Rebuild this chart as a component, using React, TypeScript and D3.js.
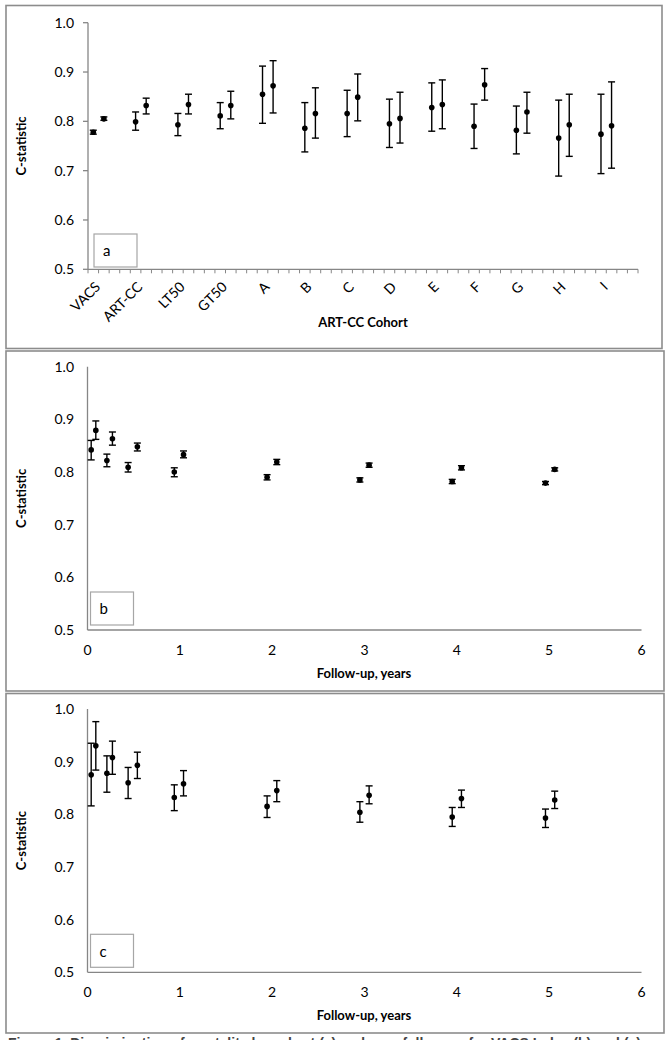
import React from "react";
import * as d3 from "d3";

// ---------- Panel a data ----------
const cohorts = ["VACS", "ART-CC", "LT50", "GT50", "A", "B", "C", "D", "E", "F", "G", "H", "I"];
const aSeries1 = [0.778, 0.799, 0.793, 0.811, 0.855, 0.786, 0.816, 0.795, 0.828, 0.790, 0.782, 0.766, 0.774];
const aSeries1Lo = [0.774, 0.782, 0.771, 0.785, 0.796, 0.738, 0.769, 0.747, 0.780, 0.745, 0.734, 0.689, 0.694];
const aSeries1Hi = [0.782, 0.819, 0.816, 0.838, 0.912, 0.838, 0.863, 0.845, 0.878, 0.835, 0.831, 0.843, 0.855];
const aSeries2 = [0.805, 0.832, 0.834, 0.832, 0.872, 0.816, 0.849, 0.806, 0.834, 0.874, 0.819, 0.793, 0.791];
const aSeries2Lo = [0.802, 0.815, 0.815, 0.805, 0.817, 0.766, 0.801, 0.756, 0.785, 0.843, 0.776, 0.729, 0.705];
const aSeries2Hi = [0.809, 0.847, 0.855, 0.861, 0.923, 0.868, 0.896, 0.859, 0.884, 0.907, 0.859, 0.855, 0.880];

// ---------- Panel b data ----------
const bYears = [0.04, 0.09, 0.21, 0.27, 0.44, 0.54, 0.94, 1.04, 1.945, 2.05, 2.95, 3.05, 3.95, 4.05, 4.96, 5.06];
const bValues = [0.842, 0.879, 0.822, 0.863, 0.809, 0.848, 0.800, 0.833, 0.790, 0.819, 0.785, 0.813, 0.782, 0.808, 0.779, 0.805];
const bLo = [0.823, 0.862, 0.810, 0.851, 0.800, 0.840, 0.791, 0.827, 0.785, 0.814, 0.781, 0.809, 0.778, 0.804, 0.776, 0.802];
const bHi = [0.860, 0.897, 0.834, 0.876, 0.818, 0.855, 0.808, 0.840, 0.795, 0.824, 0.789, 0.817, 0.786, 0.812, 0.782, 0.808];

// ---------- Panel c data ----------
const cYears = [0.04, 0.09, 0.21, 0.27, 0.44, 0.54, 0.94, 1.04, 1.945, 2.05, 2.95, 3.05, 3.95, 4.05, 4.96, 5.06];
const cValues = [0.875, 0.930, 0.878, 0.908, 0.860, 0.893, 0.832, 0.858, 0.815, 0.845, 0.804, 0.836, 0.795, 0.830, 0.793, 0.827];
const cLo = [0.816, 0.884, 0.842, 0.876, 0.830, 0.868, 0.807, 0.835, 0.794, 0.824, 0.785, 0.820, 0.777, 0.813, 0.775, 0.811];
const cHi = [0.935, 0.976, 0.911, 0.939, 0.889, 0.918, 0.856, 0.883, 0.835, 0.864, 0.824, 0.854, 0.813, 0.846, 0.810, 0.844];

const yTicks = [1.0, 0.9, 0.8, 0.7, 0.6, 0.5];
const xYearTicks = [0, 1, 2, 3, 4, 5, 6];

const FONT = "Lato, 'Open Sans', sans-serif";
const AXIS = "#868686";
const BORDER = "#8c8c8c";

function ErrPoint({ x, y, lo, hi }: { x: number; y: number; lo: number; hi: number }) {
  const cap = 3.5;
  return (
    <g>
      <line x1={x} x2={x} y1={hi} y2={lo} stroke="#000" strokeWidth={1.4} />
      <line x1={x - cap} x2={x + cap} y1={hi} y2={hi} stroke="#000" strokeWidth={1.4} />
      <line x1={x - cap} x2={x + cap} y1={lo} y2={lo} stroke="#000" strokeWidth={1.4} />
      <circle cx={x} cy={y} r={2.8} fill="#000" />
    </g>
  );
}

function YAxis({ y, x0, ticks }: { y: d3.ScaleLinear<number, number>; x0: number; ticks: boolean }) {
  return (
    <g>
      <line x1={x0} x2={x0} y1={y(1.0)} y2={y(0.5)} stroke={AXIS} strokeWidth={1.3} />
      {yTicks.map((t) => (
        <g key={t}>
          {ticks && <line x1={x0 - 5} x2={x0} y1={y(t)} y2={y(t)} stroke={AXIS} strokeWidth={1.3} />}
          <text x={74} y={y(t)} dy="0.36em" textAnchor="end" fontSize={14} fontFamily={FONT} fill="#000">
            {t.toFixed(1)}
          </text>
        </g>
      ))}
    </g>
  );
}

function LabelBox({ x, y, label }: { x: number; y: number; label: string }) {
  return (
    <g>
      <rect x={x} y={y} width={43} height={33} fill="#fff" stroke="#a6a6a6" strokeWidth={1.2} />
      <text x={x + 9} y={y + 17} dy="0.36em" fontSize={15} fontFamily={FONT} fill="#000">
        {label}
      </text>
    </g>
  );
}

function YTitle({ cy }: { cy: number }) {
  return (
    <text
      transform={`translate(26,${cy}) rotate(-90)`}
      textAnchor="middle"
      fontSize={13}
      fontWeight="bold"
      fontFamily={FONT}
    >
      C-statistic
    </text>
  );
}

function TimePanel({
  top, years, vals, lo, hi, label,
}: { top: number; years: number[]; vals: number[]; lo: number[]; hi: number[]; label: string }) {
  const x = d3.scaleLinear().domain([0, 6]).range([87.5, 641.5]);
  const y = d3.scaleLinear().domain([0.5, 1.0]).range([top + 263.3, top]);
  return (
    <g>
      <YAxis y={y} x0={87.5} ticks={false} />
      <line x1={87.5} x2={641.5} y1={y(0.5)} y2={y(0.5)} stroke={AXIS} strokeWidth={1.3} />
      {xYearTicks.map((t) => (
        <text key={t} x={x(t)} y={y(0.5) + 20} dy="0.36em" textAnchor="middle" fontSize={14} fontFamily={FONT}>
          {t}
        </text>
      ))}
      <text x={364} y={y(0.5) + 43} dy="0.36em" textAnchor="middle" fontSize={13} fontWeight="bold" fontFamily={FONT}>
        Follow-up, years
      </text>
      <YTitle cy={(y(1) + y(0.5)) / 2} />
      <LabelBox x={90.5} y={y(0.5) - 38} label={label} />
      {years.map((t, i) => (
        <ErrPoint key={i} x={x(t)} y={y(vals[i])} lo={y(lo[i])} hi={y(hi[i])} />
      ))}
    </g>
  );
}

export default function App() {
  const xa = d3.scaleLinear().domain([0, cohorts.length * 4]).range([88, 638]);
  const ya = d3.scaleLinear().domain([0.5, 1.0]).range([269.3, 22.7]);
  const slotTicks = d3.range(0, cohorts.length * 4 + 1);

  return (
    <svg
      width={670}
      height={1040}
      style={{ position: "absolute", left: 0, top: 0, background: "#fff" }}
      fontFamily={FONT}
    >
      <rect x={0} y={0} width={670} height={1040} fill="#fff" />
      {/* panel borders */}
      <rect x={6} y={5.5} width={656} height={343} fill="none" stroke={BORDER} strokeWidth={1.6} />
      <rect x={6} y={351} width={658} height={340} fill="none" stroke={BORDER} strokeWidth={1.6} />
      <rect x={6} y={693.5} width={658} height={339.5} fill="none" stroke={BORDER} strokeWidth={1.6} />

      {/* Panel a */}
      <g>
        <YAxis y={ya} x0={88} ticks={true} />
        <line x1={88} x2={638} y1={ya(0.5)} y2={ya(0.5)} stroke={AXIS} strokeWidth={1.3} />
        {slotTicks.map((s) => (
          <line key={s} x1={xa(s)} x2={xa(s)} y1={ya(0.5)} y2={ya(0.5) + 4} stroke={AXIS} strokeWidth={1} />
        ))}
        {cohorts.map((c, i) => (
          <text
            key={c}
            transform={`translate(${xa(i * 4 + 1) - 1},${ya(0.5) + 15}) rotate(-45)`}
            textAnchor="end"
            dy="0.36em"
            fontSize={14}
            fontFamily={FONT}
          >
            {c}
          </text>
        ))}
        <text x={363} y={322} dy="0.36em" textAnchor="middle" fontSize={13} fontWeight="bold" fontFamily={FONT}>
          ART-CC Cohort
        </text>
        <YTitle cy={146} />
        <LabelBox x={94} y={234} label="a" />
        {cohorts.map((c, i) => (
          <g key={c}>
            <ErrPoint x={xa(i * 4 + 0.5)} y={ya(aSeries1[i])} lo={ya(aSeries1Lo[i])} hi={ya(aSeries1Hi[i])} />
            <ErrPoint x={xa(i * 4 + 1.5)} y={ya(aSeries2[i])} lo={ya(aSeries2Lo[i])} hi={ya(aSeries2Hi[i])} />
          </g>
        ))}
      </g>

      <TimePanel top={366.7} years={bYears} vals={bValues} lo={bLo} hi={bHi} label="b" />
      <TimePanel top={709} years={cYears} vals={cValues} lo={cLo} hi={cHi} label="c" />

      <text x={8} y={1048} fontSize={14} fontWeight="bold" fill="#444" fontFamily="'Liberation Sans', Arial, sans-serif">
        Figure 1. Discrimination of mortality by cohort (a) and over follow-up for VACS Index (b) and (c)
      </text>
    </svg>
  );
}
